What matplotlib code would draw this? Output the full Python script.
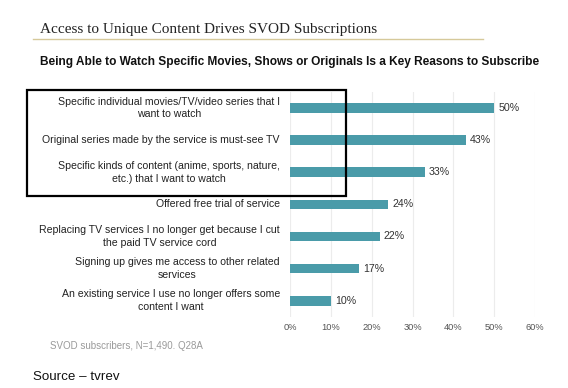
import matplotlib
matplotlib.use("Agg")
import matplotlib.pyplot as plt
from matplotlib.patches import Rectangle
from matplotlib.lines import Line2D

categories = [
    "Specific individual movies/TV/video series that I\nwant to watch",
    "Original series made by the service is must-see TV",
    "Specific kinds of content (anime, sports, nature,\netc.) that I want to watch",
    "Offered free trial of service",
    "Replacing TV services I no longer get because I cut\nthe paid TV service cord",
    "Signing up gives me access to other related\nservices",
    "An existing service I use no longer offers some\ncontent I want",
]
values = [50, 43, 33, 24, 22, 17, 10]
xticks = [0, 10, 20, 30, 40, 50, 60]

W, H = 568, 388
fig = plt.figure(figsize=(W / 100, H / 100), dpi=100)
fig.patch.set_facecolor("white")

# axes: 0% at x=290, 60% at x=535; bars centered y=108 .. 300.7
x0, x1 = 290, 535
ax_top, ax_bot = 92, 317
ax = fig.add_axes([x0 / W, 1 - ax_bot / H, (x1 - x0) / W, (ax_bot - ax_top) / H])
n = len(values)
ys = list(range(n))
ax.barh(ys, values, height=0.3, color="#4a9ba9", zorder=2)
ax.set_xlim(0, 60)
sp = (300.7 - 108) / 6
ax.set_ylim(6 + (ax_bot - 300.7) / sp, 0 - (108 - ax_top) / sp)
ax.set_xticks(xticks)
ax.set_xticklabels([f"{v}%" for v in xticks], fontsize=6.7, color="#555555",
                   family="Liberation Sans")
ax.tick_params(axis="x", length=0, pad=4)
ax.set_yticks([])
for s in ax.spines.values():
    s.set_visible(False)
ax.grid(axis="x", color="#ececec", linewidth=0.8, zorder=0)
ax.set_axisbelow(True)

for y, v, lab in zip(ys, values, categories):
    ax.text(v + 1, y, f"{v}%", va="center", ha="left", fontsize=7.7,
            color="#333333", family="Liberation Sans")
    ax.text(-2.5, y, lab, va="center", ha="right", multialignment="center",
            fontsize=7.6, color="#222222", family="Liberation Sans", linespacing=1.32)

# titles
fig.text(40 / W, 1 - 30 / H, "Access to Unique Content Drives SVOD Subscriptions",
         fontsize=11.0, family="Liberation Serif", color="#222222", va="center", ha="left")
fig.add_artist(Line2D([33 / W, 483 / W], [1 - 39 / H, 1 - 39 / H],
                      color="#d6c99a", linewidth=1.0, transform=fig.transFigure))
fig.text(40 / W, 1 - 62 / H,
         "Being Able to Watch Specific Movies, Shows or Originals Is a Key Reasons to Subscribe",
         fontsize=8.55, family="Liberation Sans", fontweight="bold", color="#111111",
         va="center", ha="left")

# black highlight box
fig.add_artist(Rectangle((27 / W, 1 - 196 / H), (346 - 27) / W, (196 - 90) / H,
                         fill=False, edgecolor="black", linewidth=1.6,
                         transform=fig.transFigure))

fig.text(50 / W, 1 - 346 / H, "SVOD subscribers, N=1,490. Q28A", fontsize=7.0,
         color="#9a9a9a", family="Liberation Sans", va="center", ha="left")
fig.text(33 / W, 1 - 377 / H, "Source \u2013 tvrev", fontsize=9.6,
         color="#111111", family="Liberation Sans", va="center", ha="left")

fig.savefig("out.png", dpi=100)
